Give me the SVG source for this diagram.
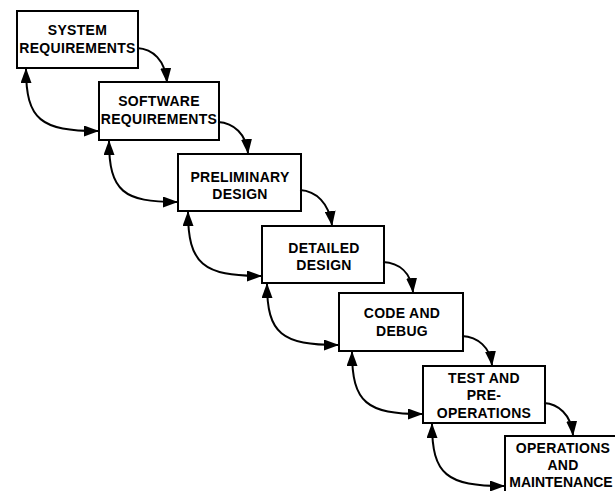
<svg xmlns="http://www.w3.org/2000/svg" width="615" height="491" viewBox="0 0 615 491">
  <style>
    .box { fill: #fff; stroke: #000; stroke-width: 2; }
    .lbl { font-family: "Liberation Sans", Arial, sans-serif; font-size: 14px; font-weight: bold; letter-spacing: 0.3px; fill: #000; text-anchor: middle; }
    .tight { letter-spacing: 0; }
    .flow { fill: none; stroke: #000; stroke-width: 2; marker-end: url(#head); }
    .back { fill: none; stroke: #000; stroke-width: 2; marker-start: url(#head); marker-end: url(#head); }
  </style>
  <defs>
    <marker id="head" viewBox="0 0 15 11" refX="14" refY="5.5" markerWidth="15" markerHeight="11" markerUnits="userSpaceOnUse" orient="auto-start-reverse">
      <path d="M0,0 L15,5.5 L0,11 z" fill="#000"/>
    </marker>
  </defs>
  <rect width="615" height="491" fill="#fff"/>

  <!-- phases of the waterfall -->
  <g id="system-requirements">
    <rect class="box" x="17" y="11" width="121" height="57"/>
    <text class="lbl" x="77.5" y="35">SYSTEM</text>
    <text class="lbl" x="77.5" y="53">REQUIREMENTS</text>
  </g>
  <g id="software-requirements">
    <rect class="box" x="99" y="82" width="120" height="58"/>
    <text class="lbl" x="159" y="106">SOFTWARE</text>
    <text class="lbl" x="159" y="124">REQUIREMENTS</text>
  </g>
  <g id="preliminary-design">
    <rect class="box" x="178" y="154" width="123" height="57"/>
    <text class="lbl" x="240" y="182">PRELIMINARY</text>
    <text class="lbl" x="240" y="199">DESIGN</text>
  </g>
  <g id="detailed-design">
    <rect class="box" x="262" y="226" width="122" height="57"/>
    <text class="lbl" x="324" y="253">DETAILED</text>
    <text class="lbl" x="324" y="270">DESIGN</text>
  </g>
  <g id="code-and-debug">
    <rect class="box" x="339" y="293" width="124" height="58"/>
    <text class="lbl" x="402" y="318">CODE AND</text>
    <text class="lbl" x="402" y="336">DEBUG</text>
  </g>
  <g id="test-and-pre-operations">
    <rect class="box" x="423" y="366" width="122" height="57"/>
    <text class="lbl" x="484" y="383">TEST AND</text>
    <text class="lbl" x="484" y="400">PRE-</text>
    <text class="lbl" x="484" y="418">OPERATIONS</text>
  </g>
  <g id="operations-and-maintenance">
    <rect class="box" x="505" y="436" width="125" height="70"/>
    <text class="lbl" x="563" y="453">OPERATIONS</text>
    <text class="lbl" x="563" y="470">AND</text>
    <text class="lbl tight" x="561" y="487">MAINTENANCE</text>
  </g>

  <g id="connectors">
    <!-- forward steps -->
    <path class="flow" d="M137,48 C153,49 165,60 167,82"/>
    <path class="flow" d="M218,122 C234,123 246,134 248,153"/>
    <path class="flow" d="M300,190 C316,191 329,203 332,225"/>
    <path class="flow" d="M383,262 C399,263 411,272 413,292"/>
    <path class="flow" d="M462,336 C478,337 490,347 492,365"/>
    <path class="flow" d="M544,403 C558,404 571,414 573,435"/>
    <!-- iteration back to the previous step -->
    <path class="back" d="M26,69 C26,120 41,131 98,131"/>
    <path class="back" d="M109,141 C109,192 124,202 177,202"/>
    <path class="back" d="M188,212 C188,264 203,276 261,276"/>
    <path class="back" d="M267,284 C267,334 282,345 338,345"/>
    <path class="back" d="M352,352 C352,403 367,414 422,414"/>
    <path class="back" d="M432,424 C432,475 447,486 504,486"/>
  </g>
</svg>
